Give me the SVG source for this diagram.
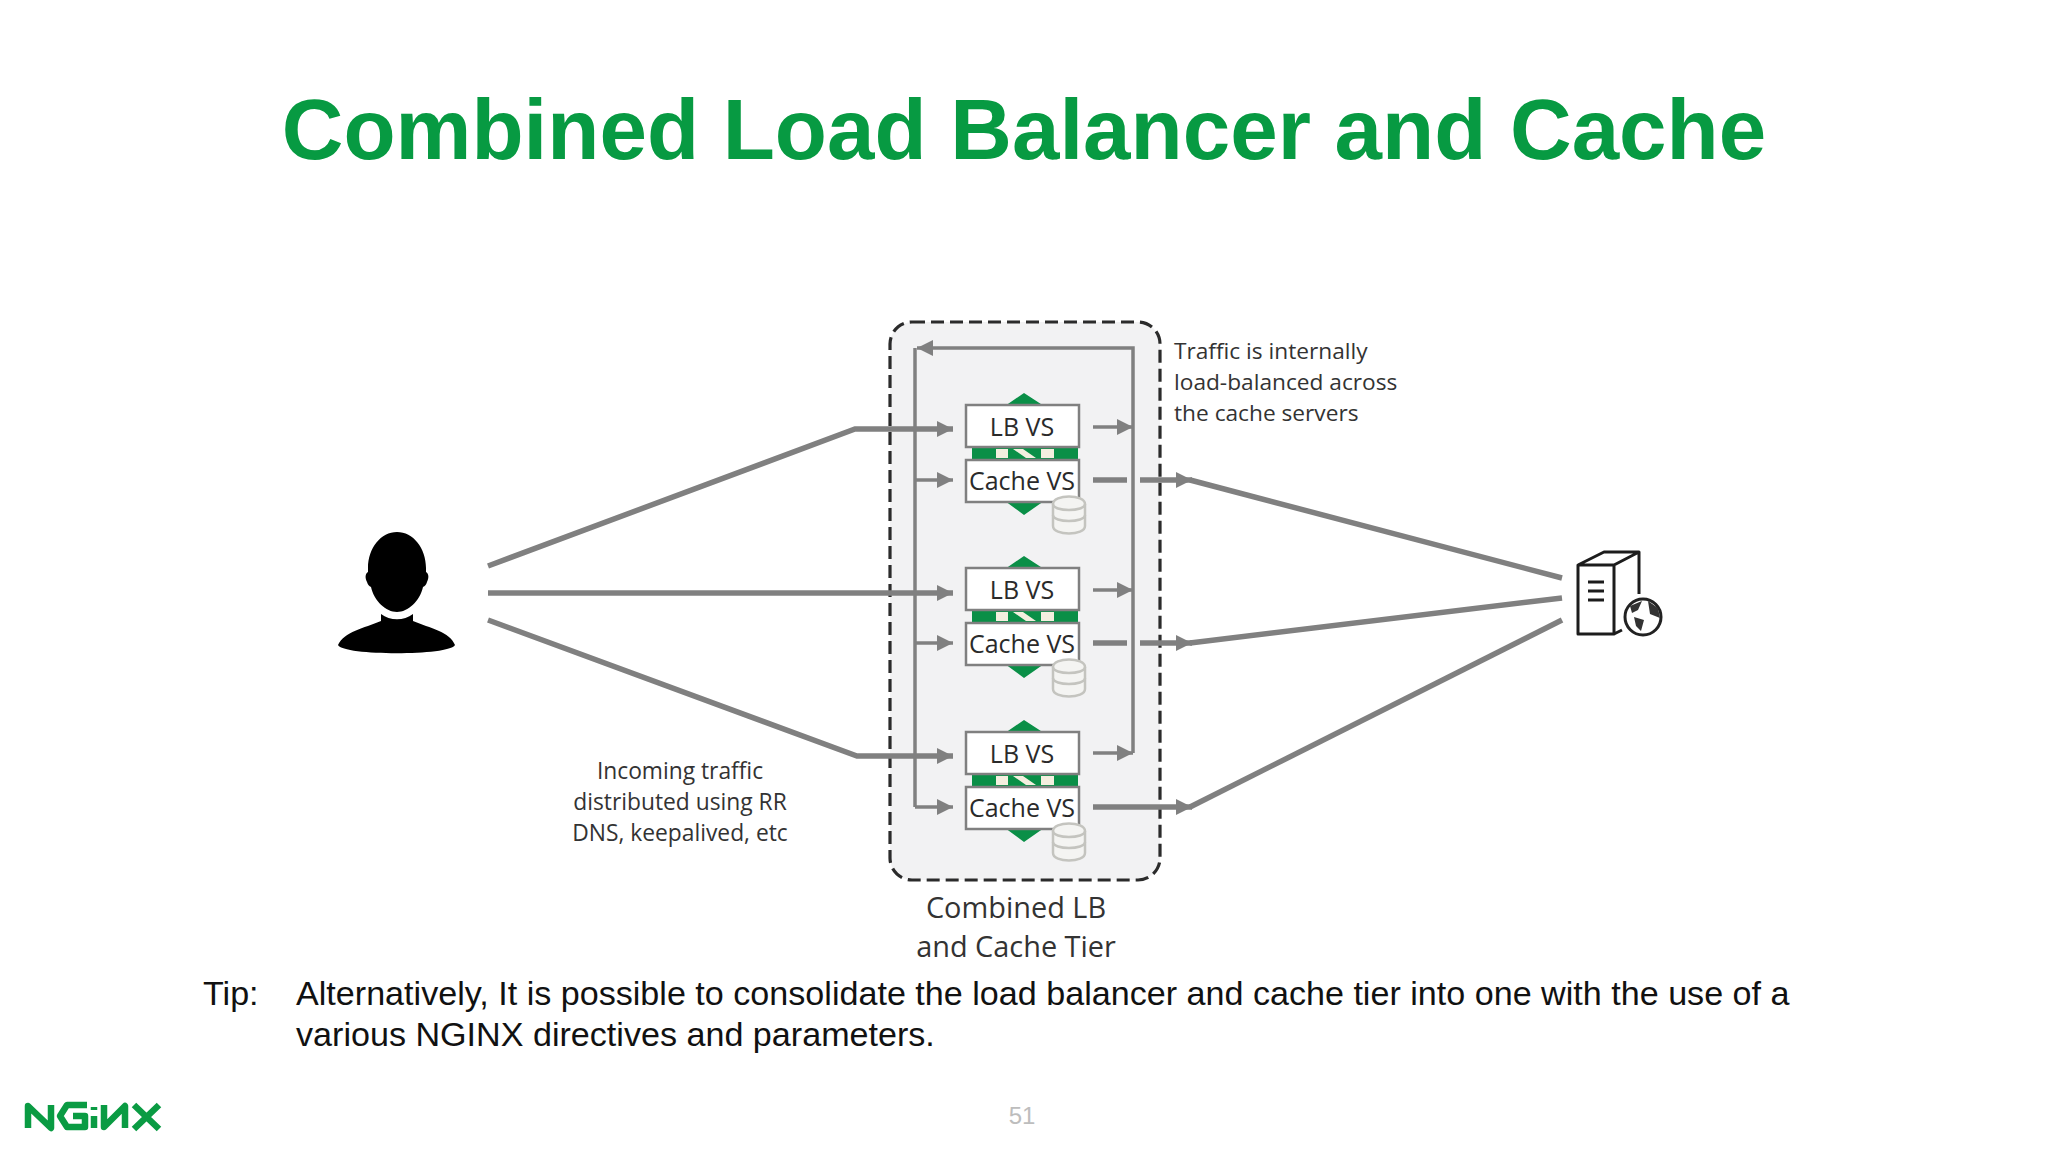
<svg xmlns="http://www.w3.org/2000/svg" width="2048" height="1152" viewBox="0 0 2048 1152">
<style>
.t{font-family:"Open Sans","Noto Sans",sans-serif;fill:#333}
.n{font-family:"Open Sans","Noto Sans",sans-serif;fill:#2a2a2a;font-size:25px;text-anchor:middle}
.s{font-family:"Liberation Sans",Arial,sans-serif;fill:#111;font-size:34.12px}
.box{fill:#fff;stroke:#808080;stroke-width:2.5}
.thick{fill:none;stroke:#808080;stroke-width:5.5}
.thin{fill:none;stroke:#808080;stroke-width:3.5}
.g{fill:#0a8f47}
.cyl{fill:#f4f4f2;stroke:#c4c4bf;stroke-width:2.5}
</style>
<defs>
<marker id="a" markerUnits="userSpaceOnUse" markerWidth="20" markerHeight="20" refX="16" refY="8" orient="auto"><path d="M0 0L16 8L0 16Z" fill="#808080"/></marker>
<g id="stack">
<path class="g" d="M1005 406L1024 393L1044 406ZM1005 501L1024 515L1044 501ZM972 447H1078V460H972Z"/>
<path d="M996 449H1008V458H996ZM1013 449H1023L1036 458H1026ZM1041 449H1054V458H1041Z" fill="#f4efdf"/>
<rect class="box" x="966" y="405" width="113" height="42"/>
<rect class="box" x="966" y="460" width="113" height="42"/>
<text class="n" x="1022" y="436">LB VS</text>
<text class="n" x="1022" y="490">Cache VS</text>
<path class="cyl" d="M1053 504C1053 494 1085 494 1085 504V526C1085 536 1053 536 1053 526Z"/>
<path fill="none" stroke="#c4c4bf" stroke-width="2.5" d="M1053 504C1053 512 1085 512 1085 504M1053 515C1053 523 1085 523 1085 515"/>
</g>
</defs>
<rect width="2048" height="1152" fill="#fff"/>
<text x="1024" y="159" text-anchor="middle" font-family="Liberation Sans,Arial,sans-serif" font-weight="700" font-size="85.35" fill="#079a42">Combined Load Balancer and Cache</text>
<g id="tier"><rect x="890" y="322" width="270" height="558" rx="22" fill="#f2f2f3" stroke="#2b2b2b" stroke-width="3.2" stroke-dasharray="13 6"/></g>
<g id="connectors">
<path class="thin" marker-end="url(#a)" d="M1133 753V348H917"/>
<path class="thin" d="M915 348V807"/>
<path class="thin" marker-end="url(#a)" d="M915 480H953"/>
<path class="thin" marker-end="url(#a)" d="M915 643H953"/>
<path class="thin" marker-end="url(#a)" d="M915 807H953"/>
<path class="thin" marker-end="url(#a)" d="M1093 427H1133"/>
<path class="thin" marker-end="url(#a)" d="M1093 590H1133"/>
<path class="thin" marker-end="url(#a)" d="M1093 753H1133"/>
<path class="thick" marker-end="url(#a)" d="M488 566L855 429H953"/>
<path class="thick" marker-end="url(#a)" d="M488 593H953"/>
<path class="thick" marker-end="url(#a)" d="M488 620L857 756H953"/>
<path class="thick" d="M1093 480H1127"/>
<path class="thick" marker-end="url(#a)" d="M1140 480H1192"/>
<path class="thick" d="M1190 480L1562 578"/>
<path class="thick" d="M1093 643H1127"/>
<path class="thick" marker-end="url(#a)" d="M1140 643H1192"/>
<path class="thick" d="M1190 643L1562 598"/>
<path class="thick" marker-end="url(#a)" d="M1093 807H1192"/>
<path class="thick" d="M1190 807L1562 620"/>
</g>
<g id="stack1"><use href="#stack"/></g>
<g id="stack2"><use href="#stack" y="163"/></g>
<g id="stack3"><use href="#stack" y="327"/></g>
<g id="user"><path d="M397 532C413 532 426 548 426 568L426 572C429 574 429 578 427 582C426 585 425 586 423 587C420 601 408 612 397 612C386 612 374 601 371 587C369 586 368 585 367 582C365 578 365 574 368 572L368 568C368 548 381 532 397 532ZM381 614C390 621 404 621 413 614L413 621C430 628 450 632 455 645C450 656 343 656 338 645C344 632 364 628 381 621Z" fill="#000"/></g>
<g id="server" fill="none" stroke="#1c1c1c" stroke-width="3" stroke-linejoin="round">
<path d="M1578 565L1604 552H1639V594M1614 565L1639 552M1578 565H1614V634H1578ZM1614 634L1622 630"/>
<path d="M1588 582H1604M1588 591H1604M1588 600H1604"/>
<circle cx="1643" cy="617" r="18" fill="#fff" stroke="#222"/>
<path fill="#333" stroke="none" d="M1630 606L1642 601L1638 610L1632 613ZM1648 601L1658 608L1660 618L1650 614ZM1634 617L1644 620L1641 631L1636 626Z"/>
</g>
<g id="notes">
<text class="t" font-size="22.7" x="1174" y="359">Traffic is internally</text>
<text class="t" font-size="22.7" x="1174" y="390">load-balanced across</text>
<text class="t" font-size="22.7" x="1174" y="421">the cache servers</text>
<text class="t" font-size="22.8" x="680" y="779" text-anchor="middle">Incoming traffic</text>
<text class="t" font-size="22.8" x="680" y="810" text-anchor="middle">distributed using RR</text>
<text class="t" font-size="22.8" x="680" y="841" text-anchor="middle">DNS, keepalived, etc</text>
<text class="t" font-size="28.9" x="1016" y="918" text-anchor="middle">Combined LB</text>
<text class="t" font-size="28.9" x="1016" y="957" text-anchor="middle">and Cache Tier</text>
</g>
<text class="s" x="203" y="1005">Tip:</text>
<text class="s" x="296" y="1005">Alternatively, It is possible to consolidate the load balancer and cache tier into one with the use of a</text>
<text class="s" x="296" y="1046">various NGINX directives and parameters.</text>
<g id="logo" fill="none" stroke="#0a9b43" stroke-width="6.5" stroke-linejoin="round">
<path d="M28 1128V1106L51 1128V1105"/>
<path d="M87 1105H67L60 1116L67 1127H85V1116H73"/>
<path d="M94 1107V1110M94 1116V1128"/>
<path d="M104 1105V1127L125 1106V1128"/>
<path d="M134 1105L159 1129M159 1105L134 1129"/>
</g>
<text x="1022" y="1124" text-anchor="middle" font-family="Liberation Sans,Arial,sans-serif" font-size="24" fill="#bdbdbd">51</text>
</svg>
